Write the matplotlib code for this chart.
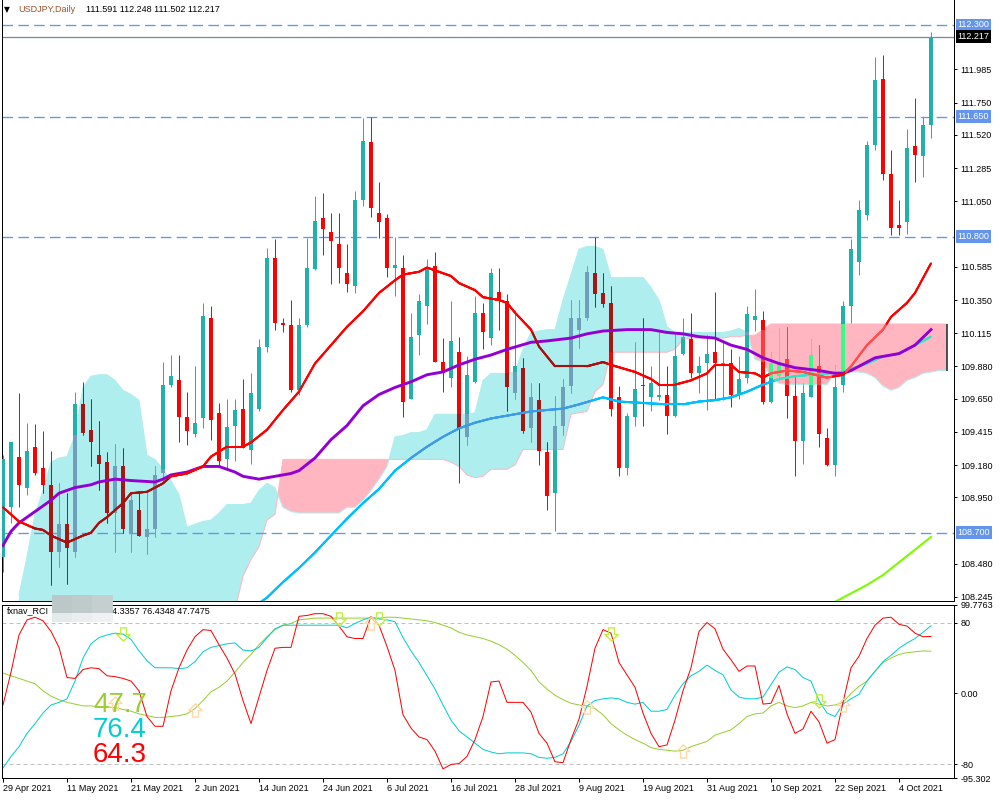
import numpy as np
import pandas as pd
import matplotlib
matplotlib.use('Agg')
import matplotlib.pyplot as plt
from matplotlib.collections import LineCollection
from matplotlib.patches import Rectangle
from matplotlib.path import Path

plt.rcParams['font.family'] = ['Liberation Sans', 'DejaVu Sans']

# USDJPY daily bars, 29 Apr 2021 .. 8 Oct 2021
dates = pd.bdate_range('2021-04-29', '2021-10-08')

opens = [108.53, 108.88, 109.24, 109.02, 109.31, 109.16, 109.04, 108.56, 108.76, 108.56,
         109.61, 109.43, 109.25, 109.20, 108.84, 109.17, 108.70, 108.86, 108.67, 108.73,
         109.12, 109.75, 109.78, 109.52, 109.40, 109.51, 110.22, 109.55, 109.22, 109.46,
         109.58, 109.29, 109.58, 110.02, 110.65, 110.19, 110.17, 109.71, 110.17, 110.57,
         110.93, 110.83, 110.75, 110.54, 110.45, 111.06, 111.47, 110.97, 110.93, 110.58,
         110.58, 109.65, 110.10, 110.31, 110.59, 109.91, 109.80, 109.98, 109.38, 109.77,
         110.26, 110.08, 110.41, 110.34, 109.69, 109.87, 109.44, 109.64, 109.27, 108.98,
         109.46, 109.74, 110.14, 110.22, 110.54, 110.40, 110.33, 109.66, 109.16, 109.52,
         109.75, 109.66, 109.66, 109.68, 109.53, 109.97, 110.07, 109.83, 109.90, 109.98,
         109.88, 109.90, 109.68, 109.80, 110.21, 110.21, 109.63, 109.81, 109.93, 109.67,
         109.35, 109.66, 109.88, 109.37, 109.18, 109.75, 110.31, 110.62, 110.95, 111.45,
         111.92, 111.24, 110.88, 110.90, 111.44, 111.37, 111.591]
highs = [109.25, 109.34, 109.69, 109.48, 109.47, 109.42, 109.28, 109.05, 108.98, 109.70,
         109.77, 109.65, 109.49, 109.27, 109.33, 109.30, 108.99, 108.98, 108.98, 109.17,
         109.91, 109.96, 109.96, 109.70, 109.88, 110.33, 110.31, 109.62, 109.65, 109.65,
         109.79, 109.83, 110.07, 110.72, 110.78, 110.22, 110.35, 110.22, 110.79, 111.09,
         111.11, 110.97, 110.97, 110.75, 111.12, 111.64, 111.65, 111.19, 110.96, 110.80,
         110.67, 110.26, 110.39, 110.64, 110.69, 110.08, 110.34, 110.09, 109.95, 110.38,
         110.33, 110.58, 110.58, 110.39, 110.28, 109.94, 109.76, 109.76, 109.34, 109.67,
         109.79, 110.35, 110.35, 110.59, 110.80, 110.54, 110.45, 109.74, 109.55, 110.05,
         110.22, 109.88, 110.12, 109.88, 110.11, 110.22, 110.26, 109.95, 110.10, 110.41,
         110.05, 110.00, 109.95, 110.31, 110.43, 110.27, 109.98, 110.15, 110.16, 109.82,
         109.76, 110.07, 110.03, 109.44, 109.89, 110.34, 110.78, 111.06, 111.48, 112.07,
         112.09, 111.41, 111.06, 111.56, 111.78, 111.65, 112.248]
lows = [108.42, 108.77, 108.88, 108.97, 109.11, 108.98, 108.33, 108.46, 108.34, 108.53,
        109.39, 109.17, 109.00, 108.77, 108.56, 108.70, 108.56, 108.68, 108.55, 108.67,
        109.07, 109.73, 109.34, 109.32, 109.38, 109.44, 109.36, 109.17, 109.15, 109.21,
        109.30, 109.19, 109.56, 109.98, 110.14, 110.12, 109.70, 109.68, 110.16, 110.56,
        110.67, 110.46, 110.47, 110.41, 110.40, 111.02, 110.94, 110.79, 110.51, 110.38,
        109.52, 109.65, 109.96, 110.18, 109.91, 109.70, 109.73, 109.05, 109.32, 109.76,
        110.00, 110.03, 110.14, 109.56, 109.65, 109.41, 109.34, 109.18, 108.86, 108.71,
        109.39, 109.69, 110.01, 110.21, 110.30, 110.30, 109.53, 109.10, 109.11, 109.46,
        109.46, 109.56, 109.64, 109.40, 109.52, 109.96, 109.80, 109.69, 109.57, 109.65,
        109.64, 109.59, 109.65, 109.76, 110.13, 109.61, 109.62, 109.78, 109.51, 109.10,
        109.19, 109.66, 109.31, 109.17, 109.10, 109.70, 110.19, 110.53, 110.92, 111.41,
        111.20, 110.81, 110.81, 110.82, 111.19, 111.22, 111.502]
closes = [109.22, 109.34, 109.04, 109.28, 109.12, 109.04, 108.56, 108.76, 108.59, 109.61,
          109.41, 109.34, 109.19, 108.84, 109.17, 108.73, 108.93, 108.68, 108.73, 109.11,
          109.75, 109.81, 109.52, 109.42, 109.48, 110.24, 109.50, 109.21, 109.45, 109.57,
          109.30, 109.69, 110.02, 110.65, 110.19, 110.17, 109.71, 110.17, 110.58, 110.91,
          110.85, 110.77, 110.58, 110.46, 111.06, 111.48, 111.00, 110.90, 110.58, 110.60,
          109.63, 110.09, 110.34, 110.57, 109.91, 109.83, 110.06, 109.44, 109.82, 110.26,
          110.12, 110.54, 110.34, 109.73, 109.88, 109.42, 109.66, 109.28, 108.96, 109.46,
          109.73, 110.22, 110.22, 110.55, 110.39, 110.32, 109.58, 109.16, 109.53, 109.72,
          109.74, 109.76, 109.68, 109.53, 109.95, 110.09, 109.83, 109.88, 109.97, 109.90,
          109.90, 109.68, 109.79, 110.25, 110.24, 109.63, 109.90, 109.91, 109.67, 109.35,
          109.69, 109.96, 109.40, 109.18, 109.73, 110.31, 110.71, 110.99, 111.45, 111.91,
          111.24, 110.86, 110.86, 111.43, 111.38, 111.59, 112.217]

# moving averages (bar index, value)
red_ma_bars = [0, 2, 4, 5, 6, 8, 10, 11, 12, 13, 15, 16, 18, 20, 21, 23, 25, 26, 28, 30,
               31, 33, 35, 37, 39, 41, 43, 45, 47, 49, 50, 52, 53, 55, 56, 57, 59, 60, 62, 63,
               64, 66, 67, 69, 73, 75, 76, 79, 81, 82, 84, 86, 88, 89, 91, 92, 94, 95, 96, 98,
               100, 103, 105, 106, 108, 110, 111, 113, 114, 116]
red_ma = [108.88, 108.78, 108.73, 108.72, 108.68, 108.63, 108.68, 108.70, 108.77, 108.81,
          108.91, 108.98, 108.99, 109.05, 109.10, 109.12, 109.17, 109.24, 109.31, 109.31,
          109.34, 109.43, 109.57, 109.70, 109.90, 110.03, 110.16, 110.27, 110.40, 110.49,
          110.53, 110.55, 110.58, 110.54, 110.52, 110.47, 110.42, 110.37, 110.35, 110.33,
          110.26, 110.14, 110.02, 109.88, 109.88, 109.91, 109.89, 109.84, 109.79, 109.75,
          109.75, 109.78, 109.83, 109.89, 109.89, 109.84, 109.83, 109.80, 109.83, 109.85,
          109.84, 109.80, 109.82, 109.88, 110.03, 110.14, 110.23, 110.33, 110.40, 110.61]

purple_ma_bars = [0, 1, 2, 4, 6, 7, 9, 11, 12, 14, 16, 19, 20, 21, 23, 25, 27, 29, 30, 32,
                  34, 36, 37, 39, 41, 43, 45, 47, 49, 51, 53, 55, 57, 59, 61, 63, 66, 68, 71, 73,
                  75, 78, 81, 83, 85, 87, 89, 91, 93, 95, 97, 99, 102, 104, 105, 106, 109, 112, 114, 116]
purple_ma = [108.61, 108.71, 108.77, 108.85, 108.93, 108.98, 109.02, 109.04, 109.06, 109.08,
             109.07, 109.06, 109.08, 109.11, 109.13, 109.17, 109.17, 109.13, 109.10, 109.08,
             109.10, 109.12, 109.14, 109.23, 109.36, 109.46, 109.60, 109.68, 109.73, 109.77,
             109.82, 109.84, 109.89, 109.93, 109.96, 110.00, 110.05, 110.06, 110.08, 110.11,
             110.13, 110.14, 110.14, 110.12, 110.11, 110.09, 110.08, 110.03, 110.00, 109.94,
             109.90, 109.87, 109.85, 109.83, 109.83, 109.85, 109.94, 109.97, 110.03, 110.14]

blue_ma_bars = [32, 33, 35, 37, 39, 41, 43, 45, 47, 49, 51, 53, 55, 57, 59, 61, 63, 66, 70, 72,
                75, 77, 80, 83, 85, 87, 89, 91, 93, 95, 97, 99, 101, 103, 105, 108, 110, 112, 114, 116]
blue_ma = [108.20, 108.24, 108.35, 108.45, 108.56, 108.68, 108.80, 108.91, 109.01, 109.14,
           109.23, 109.31, 109.38, 109.44, 109.48, 109.51, 109.53, 109.56, 109.58, 109.61,
           109.66, 109.63, 109.62, 109.61, 109.61, 109.63, 109.64, 109.66, 109.70, 109.75,
           109.79, 109.81, 109.82, 109.83, 109.84, 109.90, 109.95, 109.97, 110.03, 110.09]

lime_ma_bars = [104, 106, 108, 110, 112, 114, 116]
lime_ma = [108.21, 108.27, 108.33, 108.40, 108.49, 108.58, 108.67]

# ichimoku cloud spans, bars 2..118
cloud_bars = list(range(2, 119))
span_a = [108.26, 108.53, 108.83, 109.00, 109.20, 109.23, 109.24, 109.39, 109.73, 109.81,
          109.82, 109.82, 109.78, 109.71, 109.68, 109.64, 109.25, 109.22, 109.15, 109.07,
          108.97, 108.74, 108.76, 108.78, 108.79, 108.84, 108.90, 108.90, 108.90, 108.91,
          109.00, 109.05, 109.02, 108.88, 108.85, 108.84, 108.84, 108.84, 108.84, 108.84,
          108.84, 108.88, 108.88, 108.93, 109.00, 109.08, 109.17, 109.38, 109.39, 109.41,
          109.41, 109.43, 109.54, 109.54, 109.54, 109.54, 109.54, 109.55, 109.78, 109.83,
          109.83, 109.83, 109.84, 110.00, 110.12, 110.13, 110.14, 110.14, 110.35, 110.53,
          110.71, 110.73, 110.73, 110.71, 110.51, 110.51, 110.51, 110.51, 110.51, 110.44,
          110.35, 110.16, 110.12, 110.12, 110.12, 110.12, 110.12, 110.12, 110.12, 110.13,
          110.15, 110.12, 109.93, 109.91, 109.80, 109.76, 109.75, 109.75, 109.75, 109.75,
          109.75, 109.75, 109.83, 109.84, 109.84, 109.84, 109.83, 109.80, 109.74, 109.71,
          109.73, 109.78, 109.80, 109.83, 109.84, 109.85, 109.85]
span_b = [108.05, 108.05, 108.05, 108.05, 108.05, 108.05, 108.05, 108.05, 108.05, 108.05,
          108.05, 108.05, 108.05, 108.05, 108.05, 108.05, 108.05, 108.05, 108.05, 108.05,
          108.05, 108.05, 108.05, 108.05, 108.05, 108.05, 108.05, 108.15, 108.39, 108.51,
          108.60, 108.79, 108.83, 109.22, 109.22, 109.22, 109.22, 109.22, 109.22, 109.22,
          109.22, 109.22, 109.22, 109.22, 109.22, 109.22, 109.22, 109.22, 109.22, 109.22,
          109.22, 109.22, 109.22, 109.22, 109.20, 109.17, 109.11, 109.09, 109.10, 109.15,
          109.15, 109.15, 109.18, 109.29, 109.29, 109.29, 109.29, 109.29, 109.29, 109.54,
          109.55, 109.56, 109.70, 109.75, 109.98, 109.98, 109.98, 109.98, 109.98, 109.98,
          109.98, 109.98, 110.00, 110.07, 110.08, 110.08, 110.08, 110.08, 110.08, 110.09,
          110.09, 110.10, 110.10, 110.14, 110.18, 110.18, 110.18, 110.18, 110.18, 110.18,
          110.18, 110.18, 110.18, 110.18, 110.18, 110.18, 110.18, 110.18, 110.18, 110.18,
          110.18, 110.18, 110.18, 110.18, 110.18, 110.18, 110.18]

levels = [112.300, 111.650, 110.800, 108.700]
last_price = 112.217
price_ticks = [111.985, 111.750, 111.520, 111.285, 111.050, 110.585, 110.350, 110.115,
               109.880, 109.650, 109.415, 109.180, 108.950, 108.480, 108.245]

# RCI values per bar
rci_red = [-13, 24, 66, 83, 86, 82, 70, 52, 18, 17,
           27, 29, 28, 20, 19, 17, 14, 3, -26, -37,
           -37, 3, 29, 49, 64, 72, 71, 55, 40, 22,
           -8, -34, -4, 26, 51, 52, 52, 87, 88, 90,
           90, 87, 76, 64, 62, 62, 87, 77, 53, 26,
           -24, -39, -49, -52, -65, -85, -80, -79, -71, -52,
           -26, 13, 14, -10, -10, -10, -21, -45, -56, -77,
           -78, -52, -29, 8, 51, 72, 68, 35, 21, 7,
           -22, -45, -60, -58, -30, 3, 29, 70, 80, 73,
           50, 38, 25, 31, 31, -12, -11, 9, -23, -45,
           -40, -20, -32, -56, -52, -10, 29, 42, 62, 77,
           85, 86, 78, 76, 68, 64, 64.3]
rci_cyan = [-84, -71, -60, -45, -34, -22, -13, -10, -6, 14,
            40, 56, 63, 66, 68, 67, 61, 48, 37, 29,
            29, 29, 28, 29, 36, 47, 52, 54, 56, 57,
            49, 48, 52, 63, 73, 77, 77, 77, 77, 77,
            77, 77, 77, 74, 79, 83, 86, 84, 83, 81,
            63, 48, 35, 20, 5, -13, -30, -42, -49, -56,
            -63, -66, -68, -67, -67, -67, -68, -72, -73, -72,
            -68, -54, -36, -14, -8, -6, -5, -6, -10, -12,
            -10, -20, -20, -18, -2, 11, 20, 25, 32, 26,
            21, 4, -4, -6, -6, -4, 10, 24, 30, 27,
            18, 14, -8, -22, -26, -12, -6, -1, 14, 25,
            36, 43, 51, 57, 62, 69, 76.4]
rci_green = [23, 20, 17, 14, 11, 3, -3, -7, -10, -12,
             -14, -14, -15, -15, -16, -18, -20, -23, -25, -27,
             -27, -26, -25, -23, -17, -8, 2, 7, 14, 24,
             35, 44, 55, 64, 72, 77, 79, 83, 84, 85,
             85, 85, 85, 85, 85, 85, 85, 85, 86, 86,
             85, 84, 83, 82, 80, 77, 74, 69, 66, 64,
             62, 59, 55, 50, 43, 35, 26, 13, 5, -2,
             -7, -11, -13, -14, -17, -24, -34, -41, -47, -52,
             -56, -61, -63, -64, -65, -64, -60, -57, -54, -47,
             -44, -41, -34, -26, -23, -22, -14, -10, -14, -16,
             -14, -10, -12, -14, -13, -10, 0, 8, 14, 25,
             35, 40, 44, 46, 47, 48, 47.7]

sell_bars = [15, 42, 47, 76, 102]
sell_vals = [67, 84, 84, 67, -8]
buy_bars = [14, 24, 46, 73, 85, 105]
buy_vals = [-11, -19, 79, -15, -65, -13]

TEAL = '#20b2aa'
RED = '#ff0000'
PX = 0.72  # one pixel in points at 100 dpi

fig = plt.figure(figsize=(10, 8), dpi=100)
ax = fig.add_axes([0.002, 0.24875, 0.952, 0.75125])
ax2 = fig.add_axes([0.002, 0.0275, 0.952, 0.21625], sharex=ax)

cb = np.array(cloud_bars)
sa = np.array(span_a)
sb = np.array(span_b)


def shade_line(axis, bars, vals, base, c_cyan, c_pink, lw, z):
    xf = np.linspace(bars[0], bars[-1], (bars[-1] - bars[0]) * 20 + 1)
    yf = np.interp(xf, bars, vals)
    a = np.interp(xf, cb, sa, left=np.nan, right=np.nan)
    b = np.interp(xf, cb, sb, left=np.nan, right=np.nan)
    inside = (yf <= np.fmax(a, b)) & (yf >= np.fmin(a, b))
    cols = np.where(inside & (a >= b), c_cyan, np.where(inside, c_pink, base))
    pts = np.column_stack([xf, yf])
    segs = np.stack([pts[:-1], pts[1:]], axis=1)
    axis.add_collection(LineCollection(segs, colors=list(cols[:-1]), linewidths=lw,
                                       zorder=z, capstyle='round'))


# cloud
ax.fill_between(cb, sa, sb, where=sa >= sb, interpolate=True, color='#afeeee', lw=0, zorder=1)
ax.fill_between(cb, sa, sb, where=sa < sb, interpolate=True, color='#ffb6c1', lw=0, zorder=1)
ax.plot(cb, sb, color='#ffb6c1', lw=PX, zorder=1.5)
ax.plot(cb, sa, color='#afeeee', lw=PX, zorder=1.5)
ax.vlines(cb[-1], sa[-1], sb[-1], color='#1e3c3c', lw=1.2, zorder=1.6)

# horizontal levels
for lv in levels:
    ax.axhline(lv, color='#6495ed', lw=0.95, dashes=(8, 4), zorder=2)
ax.axhline(last_price, color='#778899', lw=0.9, zorder=2)

# candles
o, h, l, c = (np.array(v) for v in (opens, highs, lows, closes))
x = np.arange(len(o))
bull = c >= o
cols = np.where(bull, TEAL, RED)
lo = np.minimum(o, c)
ht = np.maximum(np.abs(c - o), 0.008)
ax.vlines(x, l, h, colors=list(cols), lw=PX, zorder=3)
ax.bar(x, ht, bottom=lo, width=0.62, color=list(cols), lw=0, zorder=3)

# parts of candles that sit inside the cloud change colour
for i in x:
    if i < cb[0]:
        continue
    k = i - cb[0]
    top, bot = max(sa[k], sb[k]), min(sa[k], sb[k])
    if sa[k] >= sb[k]:
        cc = '#6ea0b9' if bull[i] else '#aa1414'
    else:
        cc = '#33ff88' if bull[i] else '#ff3c3c'
    wl, wh = max(l[i], bot), min(h[i], top)
    if wh > wl:
        ax.vlines(i, wl, wh, colors=cc, lw=PX, zorder=4)
    bl, bh = max(lo[i], bot), min(lo[i] + ht[i], top)
    if bh > bl:
        ax.bar(i, bh - bl, bottom=bl, width=0.62, color=cc, lw=0, zorder=4)

# moving averages
shade_line(ax, blue_ma_bars, blue_ma, '#00bfff', '#3d9be9', '#30e8c0', 1.5, 5)
ax.plot(purple_ma_bars, purple_ma, color='#9400d3', lw=2.1, zorder=5.5)
shade_line(ax, red_ma_bars, red_ma, '#ff0000', '#a81010', '#ff4d4d', 1.5, 6)
ax.plot(lime_ma_bars, lime_ma, color='#7cfc00', lw=1.5, zorder=5)

ax.set_xlim(-0.125, 118.875)
ax.set_ylim(108.216, 112.477)
ax.yaxis.tick_right()
ax.set_yticks(price_ticks)
ax.set_yticklabels([f'{v:.3f}' for v in price_ticks])
ax.tick_params(axis='y', direction='out', length=2.5, width=PX, labelsize=6.5, pad=2)
ax.tick_params(axis='x', bottom=False, labelbottom=False)
ax.spines['top'].set_visible(False)
for s in ('left', 'right', 'bottom'):
    ax.spines[s].set_linewidth(PX)


def price_tag(axis, y, text, fc, tc):
    axis.annotate(text, xy=(1, y), xycoords=('axes fraction', 'data'), xytext=(2.4, 0),
                  textcoords='offset points', ha='left', va='center', fontsize=6.5, color=tc,
                  bbox=dict(boxstyle='square,pad=0.2', fc=fc, ec='none'),
                  annotation_clip=False, zorder=10)


for lv in levels:
    price_tag(ax, lv, f'{lv:.3f}', '#6495ed', 'white')
price_tag(ax, last_price, f'{last_price:.3f}', 'black', 'white')

# RCI panel
ax2.axhline(80, color='#c0c0c0', lw=PX, dashes=(4, 3))
ax2.axhline(-80, color='#c0c0c0', lw=PX, dashes=(4, 3))
ax2.plot(x, rci_green, color='#9acd32', lw=PX)
ax2.plot(x, rci_cyan, color='#00ced1', lw=PX)
ax2.plot(x, rci_red, color='#ff0000', lw=PX)

down_arrow = Path([(-0.22, 0.5), (0.22, 0.5), (0.22, 0.0), (0.5, 0.0), (0.0, -0.5),
                   (-0.5, 0.0), (-0.22, 0.0), (-0.22, 0.5)], closed=True)
up_arrow = Path([(-0.22, -0.5), (0.22, -0.5), (0.22, 0.0), (0.5, 0.0), (0.0, 0.5),
                 (-0.5, 0.0), (-0.22, 0.0), (-0.22, -0.5)], closed=True)
ax2.plot(sell_bars, sell_vals, ls='none', marker=down_arrow, ms=9.5, mfc='none',
         mec='#c0f040', mew=1.0, zorder=4)
ax2.plot(buy_bars, buy_vals, ls='none', marker=up_arrow, ms=9.5, mfc='none',
         mec='#ffd8a8', mew=1.0, zorder=4)

ax2.set_ylim(-95.302, 99.7763)
ax2.yaxis.tick_right()
rci_ticks = [99.7763, 80, 0, -80, -95.302]
ax2.set_yticks(rci_ticks)
ax2.set_yticklabels(['99.7763', '80', '0.00', '-80', '-95.302'])
ax2.tick_params(axis='y', direction='out', length=2.5, width=PX, labelsize=6.5, pad=2)
xt = list(range(0, len(dates), 8))
ax2.set_xticks(xt)
ax2.set_xticklabels([f'{dates[i].day} {dates[i]:%b %Y}' for i in xt], ha='left')
ax2.tick_params(axis='x', direction='out', length=3, width=PX, labelsize=6.5, pad=1.5)
for s in ax2.spines.values():
    s.set_linewidth(PX)

# headers
fig.text(0.004, 1 - 10 / 800, '\u25bc', fontsize=5.5, color='black', va='center',
         family='DejaVu Sans')
fig.text(0.018, 1 - 10 / 800, 'USDJPY,Daily', fontsize=6.5, color='#a0522d', va='center')
fig.text(0.086, 1 - 10 / 800, '111.591 112.248 111.502 112.217', fontsize=6.5,
         color='black', va='center')
fig.text(0.007, 1 - 611 / 800, 'fxnav_RCI', fontsize=6.5, color='black', va='center')
fig.text(0.107, 1 - 611 / 800, '64.3357 76.4348 47.7475', fontsize=6.5, color='black',
         va='center')

# blurred box over the indicator name
blur = [(52, 595, 20, 18, '#bcc8c8'), (72, 595, 20, 18, '#bfcaca'), (92, 595, 21, 18, '#c6cfcf'),
        (52, 613, 20, 9, '#e4e9e9'), (72, 613, 20, 9, '#ebeeee'), (92, 613, 21, 9, '#f0f1f1')]
for bx, by, bw, bh, bc in blur:
    fig.add_artist(Rectangle((bx / 1000, 1 - (by + bh) / 800), bw / 1000, bh / 800,
                             transform=fig.transFigure, fc=bc, ec='none', zorder=20))

# large RCI readouts
fig.text(0.093, 1 - 705 / 800, '47.7', fontsize=20, color='#9acd32', va='center')
fig.text(0.093, 1 - 730 / 800, '76.4', fontsize=20, color='#00ced1', va='center')
fig.text(0.093, 1 - 755 / 800, '64.3', fontsize=20, color='#ff0000', va='center')

fig.savefig('out.png', dpi=100)
